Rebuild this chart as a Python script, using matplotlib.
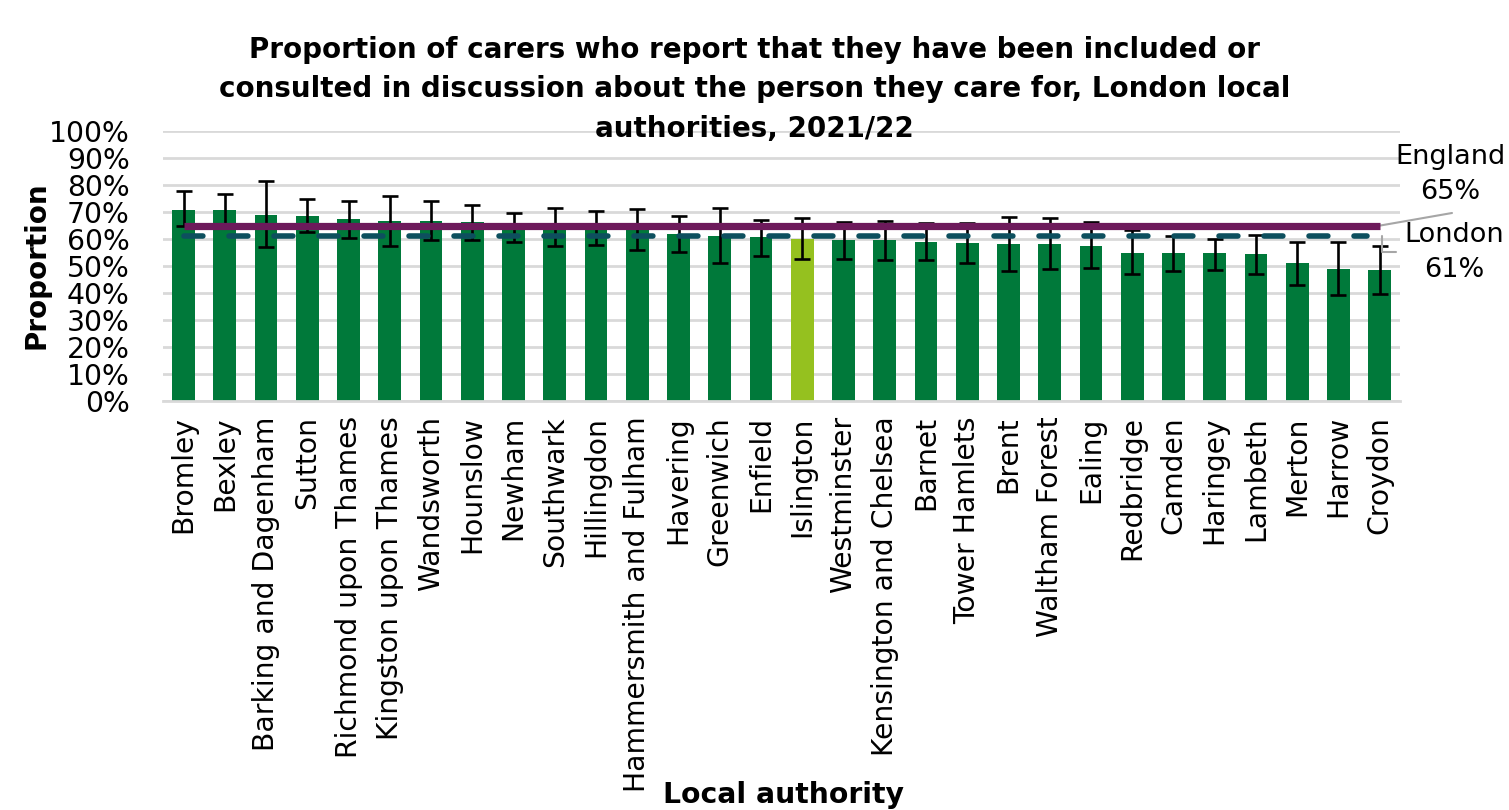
import numpy as np
import matplotlib
matplotlib.use("Agg")
import matplotlib.pyplot as plt
from matplotlib.ticker import PercentFormatter

authorities = ["Bromley", "Bexley", "Barking and Dagenham", "Sutton",
               "Richmond upon Thames", "Kingston upon Thames", "Wandsworth",
               "Hounslow", "Newham", "Southwark", "Hillingdon",
               "Hammersmith and Fulham", "Havering", "Greenwich", "Enfield",
               "Islington", "Westminster", "Kensington and Chelsea", "Barnet",
               "Tower Hamlets", "Brent", "Waltham Forest", "Ealing", "Redbridge",
               "Camden", "Haringey", "Lambeth", "Merton", "Harrow", "Croydon"]
proportion = [70.9, 70.9, 68.9, 68.4, 67.5, 66.7, 66.6, 66.2, 65.0, 64.6,
              64.2, 63.7, 62.0, 61.3, 60.6, 60.1, 59.5, 59.5, 59.0, 58.5,
              58.1, 58.1, 57.6, 54.8, 54.8, 54.8, 54.4, 51.1, 49.0, 48.6]
ci_low = [65.0, 65.2, 56.9, 62.5, 60.5, 57.6, 59.5, 59.5, 59.1, 57.3,
          57.8, 55.8, 55.3, 51.1, 53.9, 52.6, 52.6, 52.1, 52.1, 51.1,
          48.2, 48.9, 49.4, 46.9, 48.2, 48.6, 47.1, 43.0, 39.3, 39.7]
ci_high = [77.7, 76.8, 81.4, 74.8, 74.3, 75.8, 74.3, 72.5, 69.8, 71.5,
           70.6, 71.1, 68.6, 71.5, 67.2, 67.8, 66.4, 66.8, 65.9, 65.9,
           68.2, 67.8, 66.4, 63.2, 61.0, 59.9, 61.6, 59.1, 59.1, 57.3]
england = 65
london = 61
highlight = "Islington"

vals = np.array(proportion) / 100
lo = np.array(ci_low) / 100
hi = np.array(ci_high) / 100
x = np.arange(len(authorities))

green = "#00793a"
lime = "#95c11f"
colors = [lime if a == highlight else green for a in authorities]

fig = plt.figure(figsize=(15.09, 8.10), dpi=100)
ax = fig.add_axes([0.108, 0.505, 0.820, 0.333])

ax.bar(x, vals, width=0.55, color=colors, zorder=2)
ax.errorbar(x, vals, yerr=[vals - lo, hi - vals], fmt="none", ecolor="black",
            elinewidth=1.9, capsize=6, capthick=1.9, zorder=3)
ax.plot([x[0], x[-1]], [england / 100] * 2, color="#6d1a5b", lw=5.2,
        solid_capstyle="butt", zorder=4)
ax.plot([x[0], x[-1] - 0.3], [london / 100] * 2, color="#0d4f5e", lw=4,
        linestyle=(0, (3.4, 4.7)), dash_capstyle="round", zorder=5)

ax.set_xlim(-0.5, len(x) - 0.5)
ax.set_ylim(0, 1)
ax.set_yticks(np.arange(0, 1.01, 0.1))
ax.yaxis.set_major_formatter(PercentFormatter(1, decimals=0))
ax.grid(axis="y", color="#d9d9d9", lw=2, zorder=0)
ax.set_axisbelow(True)
for s in ["top", "right", "left"]:
    ax.spines[s].set_visible(False)
ax.spines["bottom"].set_color("#d9d9d9")
ax.spines["bottom"].set_linewidth(2)
ax.set_xticks(x)
ax.set_xticklabels(authorities, rotation=90, fontsize=20.3)
ax.tick_params(axis="x", length=0, pad=11)
ax.tick_params(axis="y", length=0, pad=24, labelsize=20.3)

fig.text(0.024, 0.672, "Proportion", rotation=90, fontsize=20, fontweight="bold",
         ha="center", va="center")
fig.text(0.5195, 0.019, "Local authority", fontsize=20.3, fontweight="bold",
         ha="center", va="center")
fig.text(0.5, 0.890,
         "Proportion of carers who report that they have been included or\n"
         "consulted in discussion about the person they care for, London local\n"
         "authorities, 2021/22",
         fontsize=20, fontweight="bold", ha="center", va="center", linespacing=1.52)

# leader lines and labels for the reference lines
ax.annotate("", xy=(x[-1], england / 100), xytext=(1452, 597),
            textcoords="figure pixels",
            arrowprops=dict(arrowstyle="-", color="#a6a6a6", lw=1.5,
                            shrinkA=0, shrinkB=0))
ax.annotate("", xy=(x[-1] + 0.05, london / 100), xytext=(1396, 558),
            textcoords="figure pixels",
            arrowprops=dict(arrowstyle="-", color="#a6a6a6", lw=1.5,
                            connectionstyle="angle,angleA=0,angleB=90,rad=0",
                            shrinkA=0, shrinkB=0))
fig.text(0.961, 0.785, f"England\n{england}%", fontsize=19.5, ha="center",
         va="center", linespacing=1.45)
fig.text(0.964, 0.688, f"London\n{london}%", fontsize=19.5, ha="center",
         va="center", linespacing=1.45)

fig.savefig("out.png", dpi=100)
